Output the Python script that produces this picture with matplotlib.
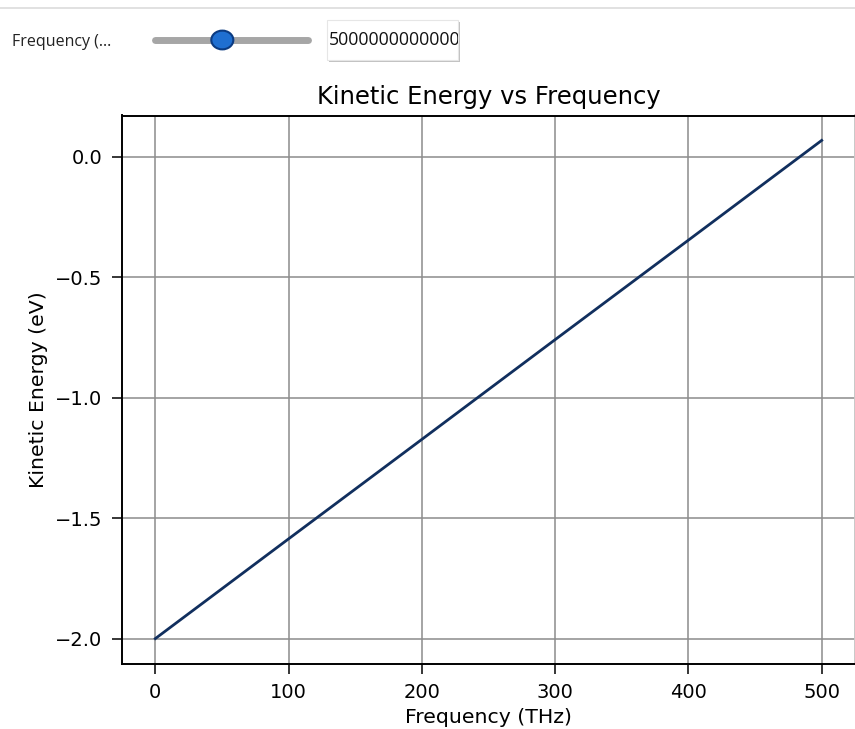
import matplotlib.pyplot as plt
from matplotlib.patches import Circle, Rectangle
from matplotlib.lines import Line2D

# photoelectric effect: kinetic energy of emitted electrons vs light frequency
freq_thz = [0, 100, 200, 300, 400, 500]
ke_ev = [-2.0, -1.586, -1.173, -0.759, -0.346, 0.068]

slider_label = 'Frequency (...'
slider_value = '500000000000000.0'
slider_pos = 0.44  # fraction along the track

W, H = 855, 729
fig = plt.figure(figsize=(W / 100, H / 100), dpi=100)

ax = fig.add_axes([122 / W, 1 - 663.5 / H, (855 - 122) / W, (663.5 - 115.5) / H])
ax.plot(freq_thz, ke_ev, color='#112f5e', lw=2)
ax.grid(True, color='#8c8c8c', lw=1.1)
ax.set_title('Kinetic Energy vs Frequency', fontsize=17.5, pad=8)
ax.set_xlabel('Frequency (THz)', fontsize=14.7, labelpad=4.5)
ax.set_ylabel('Kinetic Energy (eV)', fontsize=14.7, labelpad=5)
ax.tick_params(labelsize=14, length=7, width=1.1, pad=7)
ax.set_yticks([0.0, -0.5, -1.0, -1.5, -2.0])
for s in ax.spines.values():
    s.set_linewidth(1.4)
ax.spines['right'].set_color('#c8c8c8')

# widget strip above the plot
def px(x, y):
    return x / W, 1 - y / H

fig.add_artist(Line2D([0, 1], [1 - 8 / H] * 2, color='#dcdcdc', lw=1.2,
                      transform=fig.transFigure))
fig.text(*px(12, 42), slider_label, fontsize=11.5, family='Open Sans',
         va='center', ha='left', color='#222222')

x0, x1, yc = 155, 308, 40
fig.add_artist(Line2D([x0 / W, x1 / W], [1 - yc / H] * 2, color='#a6a6a6', lw=5,
                      solid_capstyle='round', transform=fig.transFigure))
kx = x0 + slider_pos * (x1 - x0)
fig.add_artist(Circle(px(kx, yc), 11 / W, transform=fig.transFigure,
                      facecolor='#1f6fd1', edgecolor='#0b3b82', lw=1.5,
                      zorder=5))

# shadow + text box
bx, by, bw, bh = 327, 20, 131, 40
shadow = Rectangle(((bx + 1.5) / W, 1 - (by + bh + 2) / H), bw / W, bh / H,
                   transform=fig.transFigure, facecolor='#9a9a9a',
                   edgecolor='none', alpha=0.6)
box = Rectangle((bx / W, 1 - (by + bh) / H), bw / W, bh / H,
                transform=fig.transFigure, facecolor='white',
                edgecolor='#e6e6e6', lw=0.8)
fig.add_artist(shadow)
fig.add_artist(box)
t = fig.text(*px(bx + 2, by + bh / 2), slider_value, fontsize=12.8,
             family='Open Sans', va='center', ha='left', color='#111111')
t.set_clip_path(box)

fig.savefig('out.png', dpi=100)
